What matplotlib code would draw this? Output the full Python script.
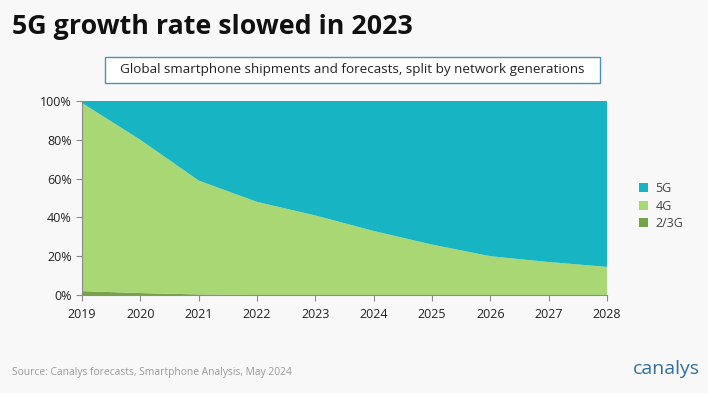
import matplotlib.pyplot as plt
from matplotlib.patches import FancyBboxPatch
import numpy as np

years = [2019, 2020, 2021, 2022, 2023, 2024, 2025, 2026, 2027, 2028]
share_23g = [2.0, 1.0, 0.3, 0, 0, 0, 0, 0, 0, 0]
share_4g = [97.0, 79.0, 58.7, 48.0, 41.0, 33.0, 26.0, 20.0, 17.0, 14.5]
share_5g = [100 - a - b for a, b in zip(share_23g, share_4g)]

series_names = ['2/3G', '4G', '5G']
colors = ['#76a34a', '#a8d774', '#17b4c4']

plt.rcParams['font.family'] = ['Open Sans', 'DejaVu Sans']
bg = '#f8f8f8'

fig = plt.figure(figsize=(7.08, 3.93), dpi=100, facecolor=bg)
ax = fig.add_axes([82 / 708, 1 - 295 / 393, 525 / 708, 194 / 393])
ax.set_facecolor(bg)

ax.stackplot(years, share_23g, share_4g, share_5g, colors=colors, labels=series_names, linewidth=0)

ax.set_xlim(2019, 2028)
ax.set_ylim(0, 100)
ax.set_xticks(years)
ax.set_yticks(range(0, 101, 20))
ax.set_yticklabels([f'{v}%' for v in range(0, 101, 20)])
for s in ['top', 'right']:
    ax.spines[s].set_visible(False)
for s in ['left', 'bottom']:
    ax.spines[s].set_color('#8c8c8c')
ax.tick_params(colors='#8c8c8c', labelcolor='#222222', labelsize=9, length=4, direction='out')
ax.tick_params(axis='x', pad=5)

handles, labels = ax.get_legend_handles_labels()
leg = fig.legend(handles[::-1], labels[::-1], loc='upper left', bbox_to_anchor=(628 / 708, 1 - 171 / 393),
                 frameon=False, fontsize=9, handlelength=0.7, handleheight=0.7,
                 handletextpad=0.6, labelspacing=0.35)
for t in leg.get_texts():
    t.set_color('#444444')

fig.text(12 / 708, 1 - 27 / 393, '5G growth rate slowed in 2023', fontsize=19.3, fontweight='bold',
         color='#111111', va='center', ha='left')

box = FancyBboxPatch((105 / 708, 1 - 83 / 393), 495 / 708, 26 / 393, boxstyle='square,pad=0',
                     transform=fig.transFigure, facecolor='white', edgecolor='#4f8fb5', linewidth=1.0)
fig.add_artist(box)
fig.text(352 / 708, 1 - 70 / 393, 'Global smartphone shipments and forecasts, split by network generations',
         fontsize=9.7, color='#222222', ha='center', va='center')

fig.text(12 / 708, 1 - 373 / 393, 'Source: Canalys forecasts, Smartphone Analysis, May 2024',
         fontsize=7.4, color='#999999', ha='left', va='center')
fig.text(700 / 708, 1 - 369 / 393, 'canalys', fontsize=14, color='#2e6f9e', ha='right', va='center')

fig.savefig('out.png', dpi=100, facecolor=bg)
